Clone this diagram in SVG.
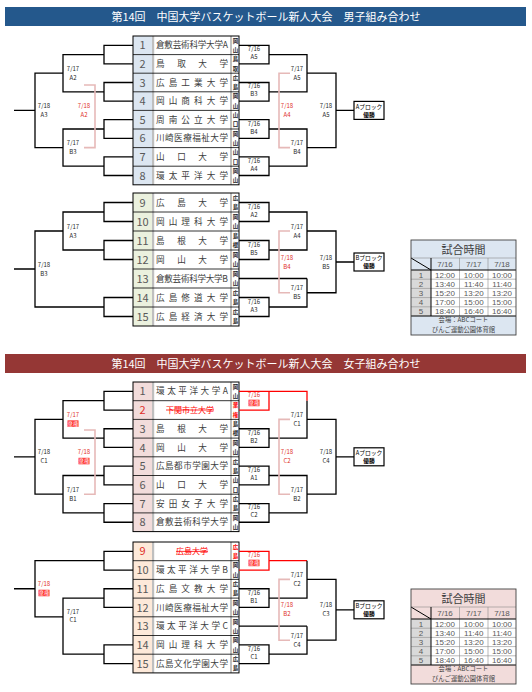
<svg xmlns="http://www.w3.org/2000/svg" width="532" height="692" viewBox="0 0 532 692">
<style>
text{font-family:"Noto Sans CJK JP","Noto Sans",sans-serif}
.ln{stroke:#000;stroke-width:1.3;fill:none}
.pk{stroke:#e6b9b8;stroke-width:1.6;fill:none}
.rd{stroke:#ff0000;stroke-width:1.3;fill:none}
.lb{font-size:6px;fill:#262626;text-anchor:middle}
.lr{font-size:6px;fill:#e0302a;text-anchor:middle}
.lw{font-size:5.5px;fill:#fff;text-anchor:middle}
.rb{fill:#ff2020}
.no{font-size:11px;fill:#595959;text-anchor:middle}
.nm{font-size:8.6px;fill:#404040}
.pf{font-size:5.5px;fill:#262626;text-anchor:middle;font-weight:bold}
.bA{fill:#dce6f1}.bB{fill:#ebf1de}.bC{fill:#f2dcdb}.bD{fill:#fde9d9}
.tb{fill:none;stroke:#000;stroke-width:1}
.rl{stroke:#000;stroke-width:0.8}
.sep{fill:#bfbfbf}
.hd{font-size:11px;fill:#fff;text-anchor:middle}
.tt{font-size:11px;fill:#404040;text-anchor:middle}
.tm{font-family:"Liberation Sans",Arial,sans-serif;font-size:8px;fill:#595959;text-anchor:middle}
.ft{font-size:6.3px;fill:#404040;text-anchor:middle}
.gl{stroke:#8c8c8c;stroke-width:0.6}
.bl{stroke:#000;stroke-width:1}
.wb{font-size:5.8px;fill:#000;text-anchor:middle}
</style>
<rect width="532" height="692" fill="#fff"/>

<!-- headers -->
<g id="header-men"><rect x="5" y="7" width="521" height="19" fill="#24588c"/><text class="hd" x="266" y="20.5">第14回　中国大学バスケットボール新人大会　男子組み合わせ</text></g>
<g id="header-women"><rect x="5" y="354" width="521" height="19" fill="#953735"/><text class="hd" x="266" y="367.5">第14回　中国大学バスケットボール新人大会　女子組み合わせ</text></g>

<!-- men A teams -->
<g id="men-A-table">
<g id="m1"><rect class="bA" x="133" y="36" width="19" height="18.6"/><text class="no" x="142.5" y="49.3">1</text><text class="nm" x="156" y="48.3" textLength="72" lengthAdjust="spacing">倉敷芸術科学大学A</text><text class="pf" x="235.5" y="42.6">岡</text><text class="pf" x="235.5" y="51.9">山</text></g>
<g id="m2"><rect class="bA" x="133" y="54.6" width="19" height="18.6"/><text class="no" x="142.5" y="67.9">2</text><text class="nm" x="156" y="66.9" textLength="72" lengthAdjust="spacing">鳥取大学</text><text class="pf" x="235.5" y="61.2">鳥</text><text class="pf" x="235.5" y="70.5">取</text></g>
<g id="m3"><rect class="bA" x="133" y="73.2" width="19" height="18.6"/><text class="no" x="142.5" y="86.5">3</text><text class="nm" x="156" y="85.5" textLength="72" lengthAdjust="spacing">広島工業大学</text><text class="pf" x="235.5" y="79.8">広</text><text class="pf" x="235.5" y="89.1">島</text></g>
<g id="m4"><rect class="bA" x="133" y="91.8" width="19" height="18.6"/><text class="no" x="142.5" y="105.1">4</text><text class="nm" x="156" y="104.1" textLength="72" lengthAdjust="spacing">岡山商科大学</text><text class="pf" x="235.5" y="98.4">岡</text><text class="pf" x="235.5" y="107.7">山</text></g>
<g id="m5"><rect class="bA" x="133" y="110.4" width="19" height="18.6"/><text class="no" x="142.5" y="123.7">5</text><text class="nm" x="156" y="122.7" textLength="72" lengthAdjust="spacing">周南公立大学</text><text class="pf" x="235.5" y="117">山</text><text class="pf" x="235.5" y="126.3">口</text></g>
<g id="m6"><rect class="bA" x="133" y="129" width="19" height="18.6"/><text class="no" x="142.5" y="142.3">6</text><text class="nm" x="156" y="141.3" textLength="72" lengthAdjust="spacing">川崎医療福祉大学</text><text class="pf" x="235.5" y="135.6">岡</text><text class="pf" x="235.5" y="144.9">山</text></g>
<g id="m7"><rect class="bA" x="133" y="147.6" width="19" height="18.6"/><text class="no" x="142.5" y="160.9">7</text><text class="nm" x="156" y="159.9" textLength="72" lengthAdjust="spacing">山口大学</text><text class="pf" x="235.5" y="154.2">山</text><text class="pf" x="235.5" y="163.5">口</text></g>
<g id="m8"><rect class="bA" x="133" y="166.2" width="19" height="18.6"/><text class="no" x="142.5" y="179.5">8</text><text class="nm" x="156" y="178.5" textLength="72" lengthAdjust="spacing">環太平洋大学</text><text class="pf" x="235.5" y="172.8">岡</text><text class="pf" x="235.5" y="182.1">山</text></g>
<rect class="sep" x="152" y="36" width="2.2" height="148.8"/><rect class="sep" x="230" y="36" width="2" height="148.8"/>
<path class="rl" d="M133,54.6H239M133,73.2H239M133,91.8H239M133,110.4H239M133,129H239M133,147.6H239M133,166.2H239"/>
<rect class="tb" x="133" y="36" width="106" height="148.8"/>
</g>

<!-- men B teams -->
<g id="men-B-table">
<g id="m9"><rect class="bB" x="133" y="193" width="19" height="19"/><text class="no" x="142.5" y="206.5">9</text><text class="nm" x="156" y="205.5" textLength="72" lengthAdjust="spacing">広島大学</text><text class="pf" x="235.5" y="199.8">広</text><text class="pf" x="235.5" y="209.3">島</text></g>
<g id="m10"><rect class="bB" x="133" y="212" width="19" height="19"/><text class="no" x="142.5" y="225.5">10</text><text class="nm" x="156" y="224.5" textLength="72" lengthAdjust="spacing">岡山理科大学</text><text class="pf" x="235.5" y="218.8">岡</text><text class="pf" x="235.5" y="228.3">山</text></g>
<g id="m11"><rect class="bB" x="133" y="231" width="19" height="19"/><text class="no" x="142.5" y="244.5">11</text><text class="nm" x="156" y="243.5" textLength="72" lengthAdjust="spacing">島根大学</text><text class="pf" x="235.5" y="237.8">島</text><text class="pf" x="235.5" y="247.3">根</text></g>
<g id="m12"><rect class="bB" x="133" y="250" width="19" height="19"/><text class="no" x="142.5" y="263.5">12</text><text class="nm" x="156" y="262.5" textLength="72" lengthAdjust="spacing">岡山大学</text><text class="pf" x="235.5" y="256.8">岡</text><text class="pf" x="235.5" y="266.3">山</text></g>
<g id="m13"><rect class="bB" x="133" y="269" width="19" height="19"/><text class="no" x="142.5" y="282.5">13</text><text class="nm" x="156" y="281.5" textLength="72" lengthAdjust="spacing">倉敷芸術科学大学B</text><text class="pf" x="235.5" y="275.8">岡</text><text class="pf" x="235.5" y="285.3">山</text></g>
<g id="m14"><rect class="bB" x="133" y="288" width="19" height="19"/><text class="no" x="142.5" y="301.5">14</text><text class="nm" x="156" y="300.5" textLength="72" lengthAdjust="spacing">広島修道大学</text><text class="pf" x="235.5" y="294.8">広</text><text class="pf" x="235.5" y="304.3">島</text></g>
<g id="m15"><rect class="bB" x="133" y="307" width="19" height="19"/><text class="no" x="142.5" y="320.5">15</text><text class="nm" x="156" y="319.5" textLength="72" lengthAdjust="spacing">広島経済大学</text><text class="pf" x="235.5" y="313.8">広</text><text class="pf" x="235.5" y="323.3">島</text></g>
<rect class="sep" x="152" y="193" width="2.2" height="133"/><rect class="sep" x="230" y="193" width="2" height="133"/>
<path class="rl" d="M133,212H239M133,231H239M133,250H239M133,269H239M133,288H239M133,307H239"/>
<rect class="tb" x="133" y="193" width="106" height="133"/>
</g>

<!-- women A teams -->
<g id="women-A-table">
<g id="w1"><rect class="bC" x="133" y="382" width="19" height="18.7"/><text class="no" x="142.5" y="395.4">1</text><text class="nm" x="156" y="394.4" textLength="72" lengthAdjust="spacing">環太平洋大学A</text><text class="pf" x="235.5" y="388.7">岡</text><text class="pf" x="235.5" y="398">山</text></g>
<g id="w2"><rect class="bC" x="133" y="400.7" width="19" height="18.7"/><text class="no" x="142.5" y="414.1" style="fill:#e0302a">2</text><text x="190" y="413" font-size="8" fill="#ff0000" text-anchor="middle" text-decoration="line-through">下関市立大学</text><text class="pf" x="235.5" y="407.4" style="fill:#ff0000">棄</text><text class="pf" x="235.5" y="416.7" style="fill:#ff0000">権</text></g>
<g id="w3"><rect class="bC" x="133" y="419.4" width="19" height="18.7"/><text class="no" x="142.5" y="432.8">3</text><text class="nm" x="156" y="431.8" textLength="72" lengthAdjust="spacing">島根大学</text><text class="pf" x="235.5" y="426.1">島</text><text class="pf" x="235.5" y="435.4">根</text></g>
<g id="w4"><rect class="bC" x="133" y="438.1" width="19" height="18.7"/><text class="no" x="142.5" y="451.5">4</text><text class="nm" x="156" y="450.5" textLength="72" lengthAdjust="spacing">岡山大学</text><text class="pf" x="235.5" y="444.8">岡</text><text class="pf" x="235.5" y="454.1">山</text></g>
<g id="w5"><rect class="bC" x="133" y="456.8" width="19" height="18.7"/><text class="no" x="142.5" y="470.2">5</text><text class="nm" x="156" y="469.2" textLength="72" lengthAdjust="spacing">広島都市学園大学</text><text class="pf" x="235.5" y="463.5">広</text><text class="pf" x="235.5" y="472.8">島</text></g>
<g id="w6"><rect class="bC" x="133" y="475.5" width="19" height="18.7"/><text class="no" x="142.5" y="488.9">6</text><text class="nm" x="156" y="487.9" textLength="72" lengthAdjust="spacing">山口大学</text><text class="pf" x="235.5" y="482.2">山</text><text class="pf" x="235.5" y="491.5">口</text></g>
<g id="w7"><rect class="bC" x="133" y="494.2" width="19" height="18.7"/><text class="no" x="142.5" y="507.6">7</text><text class="nm" x="156" y="506.6" textLength="72" lengthAdjust="spacing">安田女子大学</text><text class="pf" x="235.5" y="500.9">広</text><text class="pf" x="235.5" y="510.2">島</text></g>
<g id="w8"><rect class="bC" x="133" y="512.9" width="19" height="18.7"/><text class="no" x="142.5" y="526.3">8</text><text class="nm" x="156" y="525.3" textLength="72" lengthAdjust="spacing">倉敷芸術科学大学</text><text class="pf" x="235.5" y="519.6">岡</text><text class="pf" x="235.5" y="528.9">山</text></g>
<rect class="sep" x="152" y="382" width="2.2" height="149.6"/><rect class="sep" x="230" y="382" width="2" height="149.6"/>
<path class="rl" d="M133,400.7H239M133,419.4H239M133,438.1H239M133,456.8H239M133,475.5H239M133,494.2H239M133,512.9H239"/>
<rect class="tb" x="133" y="382" width="106" height="149.6"/>
</g>

<!-- women B teams -->
<g id="women-B-table">
<g id="w9"><rect class="bD" x="133" y="542" width="19" height="18.7"/><text class="no" x="142.5" y="555.4" style="fill:#e0302a">9</text><text x="192" y="554.3" font-size="8" fill="#ff0000" text-anchor="middle" text-decoration="line-through">広島大学</text><text class="pf" x="235.5" y="548.7" style="fill:#ff0000">広</text><text class="pf" x="235.5" y="558" style="fill:#ff0000">島</text></g>
<g id="w10"><rect class="bD" x="133" y="560.7" width="19" height="18.7"/><text class="no" x="142.5" y="574.1">10</text><text class="nm" x="156" y="573.1" textLength="72" lengthAdjust="spacing">環太平洋大学B</text><text class="pf" x="235.5" y="567.4">岡</text><text class="pf" x="235.5" y="576.7">山</text></g>
<g id="w11"><rect class="bD" x="133" y="579.4" width="19" height="18.7"/><text class="no" x="142.5" y="592.8">11</text><text class="nm" x="156" y="591.8" textLength="72" lengthAdjust="spacing">広島文教大学</text><text class="pf" x="235.5" y="586.1">広</text><text class="pf" x="235.5" y="595.4">島</text></g>
<g id="w12"><rect class="bD" x="133" y="598.1" width="19" height="18.7"/><text class="no" x="142.5" y="611.5">12</text><text class="nm" x="156" y="610.5" textLength="72" lengthAdjust="spacing">川崎医療福祉大学</text><text class="pf" x="235.5" y="604.8">岡</text><text class="pf" x="235.5" y="614.1">山</text></g>
<g id="w13"><rect class="bD" x="133" y="616.8" width="19" height="18.7"/><text class="no" x="142.5" y="630.2">13</text><text class="nm" x="156" y="629.2" textLength="72" lengthAdjust="spacing">環太平洋大学C</text><text class="pf" x="235.5" y="623.5">岡</text><text class="pf" x="235.5" y="632.8">山</text></g>
<g id="w14"><rect class="bD" x="133" y="635.5" width="19" height="18.7"/><text class="no" x="142.5" y="648.9">14</text><text class="nm" x="156" y="647.9" textLength="72" lengthAdjust="spacing">岡山理科大学</text><text class="pf" x="235.5" y="642.2">岡</text><text class="pf" x="235.5" y="651.5">山</text></g>
<g id="w15"><rect class="bD" x="133" y="654.2" width="19" height="18.7"/><text class="no" x="142.5" y="667.6">15</text><text class="nm" x="156" y="666.6" textLength="72" lengthAdjust="spacing">広島文化学園大学</text><text class="pf" x="235.5" y="660.9">広</text><text class="pf" x="235.5" y="670.2">島</text></g>
<rect class="sep" x="152" y="542" width="2.2" height="130.9"/><rect class="sep" x="230" y="542" width="2" height="130.9"/>
<path class="rl" d="M133,560.7H239M133,579.4H239M133,598.1H239M133,616.8H239M133,635.5H239M133,654.2H239"/>
<rect class="tb" x="133" y="542" width="106" height="130.9"/>
</g>

<!-- connectors -->
<g id="connectors">
<!-- men A left -->
<path class="ln" d="M133,45.3H104V63.9H133M133,82.5H104V101.1H133M133,119.7H104V138.3H133M133,156.9H104V175.5H133"/>
<path class="ln" d="M104,54.6H63V91.8H104M104,129H63V166.2H104M63,73.2H35V147.6H63M35,110.4H14"/>
<path class="pk" d="M84,85H95V147.6H84"/>
<!-- men A right -->
<path class="ln" d="M239,45.3H269V63.9H239M239,82.5H269V101.1H239M239,119.7H269V138.3H239M239,156.9H269V175.5H239"/>
<path class="ln" d="M269,54.6H307V91.8H269M269,129H307V166.2H269M307,73.2H336V147.6H307M336,110.4H354"/>
<path class="pk" d="M290,73.2H279V147.6H290"/>
<!-- men B left -->
<path class="ln" d="M133,202.5H104V221.5H133M133,240.5H104V259.5H133M133,297.5H104V316.5H133"/>
<path class="ln" d="M104,212H63V250H104M63,231H35V307H104M35,269H14"/>
<!-- men B right -->
<path class="ln" d="M239,202.5H269V221.5H239M239,240.5H269V259.5H239M239,297.5H269V316.5H239M239,278.5H307"/>
<path class="ln" d="M269,212H307V250H269M307,278.5V307H269M307,231H336V292.75H307M336,262H354"/>
<path class="pk" d="M290,231H279V292.75H290"/>
<!-- women A left -->
<path class="ln" d="M133,391.35H104V410.05H133M133,428.75H104V447.45H133M133,466.15H104V484.85H133M133,503.55H104V522.25H133"/>
<path class="ln" d="M104,400.7H63V438.1H104M104,475.5H63V512.9H104M63,419.4H35V494.2H63M35,456.8H14"/>
<path class="pk" d="M84,430H95V494.2H84"/>
<!-- women A right -->
<path class="rd" d="M239,391.35H307V400.7M269,391.35V410.05H239"/>
<path class="ln" d="M239,428.75H269V447.45H239M239,466.15H269V484.85H239M239,503.55H269V522.25H239"/>
<path class="ln" d="M307,400.7V438.1H269M269,475.5H307V512.9H269M307,419.4H336V494.2H307M336,456.8H354"/>
<path class="pk" d="M290,419.4H279V494.2H290"/>
<!-- women B left -->
<path class="ln" d="M133,551.35H104V570.05H133M133,588.75H104V607.45H133M133,644.85H104V663.55H133"/>
<path class="ln" d="M104,598.1H63V654.2H104M104,560.7H35V616.8H63M35,588.75H14"/>
<!-- women B right -->
<path class="rd" d="M239,551.35H269V570.05H239M269,560.7H307"/>
<path class="ln" d="M239,588.75H269V607.45H239M239,644.85H269V663.55H239M239,626.15H307"/>
<path class="ln" d="M307,560.7V598.1H269M307,626.15V654.2H269M307,579.4H336V640.2H307M336,609.8H354"/>
<path class="pk" d="M290,579.4H279V640.2H290"/>
</g>

<!-- match labels -->
<g id="labels">
<!-- men A -->
<text class="lb" x="73" y="70.7">7/17</text><text class="lb" x="73" y="79.7">A2</text>
<text class="lb" x="73" y="145.1">7/17</text><text class="lb" x="73" y="154.1">B3</text>
<text class="lb" x="44" y="107.9">7/18</text><text class="lb" x="44" y="116.9">A3</text>
<text class="lr" x="84" y="107.9">7/18</text><text class="lr" x="84" y="116.9">A2</text>
<text class="lb" x="254" y="51.1">7/16</text><text class="lb" x="254" y="59.1">A5</text>
<text class="lb" x="254" y="88.3">7/16</text><text class="lb" x="254" y="96.3">B3</text>
<text class="lb" x="254" y="125.5">7/16</text><text class="lb" x="254" y="133.5">B4</text>
<text class="lb" x="254" y="162.7">7/16</text><text class="lb" x="254" y="170.7">A4</text>
<text class="lb" x="297" y="70.7">7/17</text><text class="lb" x="297" y="79.7">A5</text>
<text class="lb" x="297" y="145.1">7/17</text><text class="lb" x="297" y="154.1">B4</text>
<text class="lb" x="326" y="107.9">7/18</text><text class="lb" x="326" y="116.9">A5</text>
<text class="lr" x="287" y="107.9">7/18</text><text class="lr" x="287" y="116.9">A4</text>
<!-- men B -->
<text class="lb" x="73" y="228.5">7/17</text><text class="lb" x="73" y="237.5">A3</text>
<text class="lb" x="44" y="266.5">7/18</text><text class="lb" x="44" y="275.5">B3</text>
<text class="lb" x="254" y="208.5">7/16</text><text class="lb" x="254" y="216.5">A2</text>
<text class="lb" x="254" y="246.5">7/16</text><text class="lb" x="254" y="254.5">B5</text>
<text class="lb" x="254" y="303.5">7/16</text><text class="lb" x="254" y="311.5">A3</text>
<text class="lb" x="297" y="228.5">7/17</text><text class="lb" x="297" y="237.5">A4</text>
<text class="lb" x="297" y="290.25">7/17</text><text class="lb" x="297" y="299.25">B5</text>
<text class="lb" x="326" y="259.5">7/18</text><text class="lb" x="326" y="268.5">B5</text>
<text class="lr" x="287" y="259.5">7/18</text><text class="lr" x="287" y="268.5">B4</text>
<!-- women A -->
<text class="lr" x="73" y="416.9">7/17</text><rect class="rb" x="67.5" y="420.4" width="11" height="6.5"/><text class="lw" x="73" y="425.9">棄権</text>
<text class="lb" x="73" y="491.7">7/17</text><text class="lb" x="73" y="500.7">B1</text>
<text class="lb" x="44" y="454.3">7/18</text><text class="lb" x="44" y="463.3">C1</text>
<text class="lr" x="84" y="454.3">7/18</text><rect class="rb" x="78.5" y="457.8" width="11" height="6.5"/><text class="lw" x="84" y="463.3">棄権</text>
<text class="lr" x="254" y="397.2">7/16</text><rect class="rb" x="248.5" y="399.7" width="11" height="6.5"/><text class="lw" x="254" y="405.2">棄権</text>
<text class="lb" x="254" y="434.6">7/16</text><text class="lb" x="254" y="442.6">B2</text>
<text class="lb" x="254" y="472">7/16</text><text class="lb" x="254" y="480">A1</text>
<text class="lb" x="254" y="509.4">7/16</text><text class="lb" x="254" y="517.4">C2</text>
<text class="lb" x="297" y="416.9">7/17</text><text class="lb" x="297" y="425.9">C1</text>
<text class="lb" x="297" y="491.7">7/17</text><text class="lb" x="297" y="500.7">B2</text>
<text class="lb" x="326" y="454.3">7/18</text><text class="lb" x="326" y="463.3">C4</text>
<text class="lr" x="287" y="454.3">7/18</text><text class="lr" x="287" y="463.3">C2</text>
<!-- women B -->
<text class="lb" x="73" y="614">7/17</text><text class="lb" x="73" y="622">C1</text>
<text class="lr" x="44" y="586.25">7/18</text><rect class="rb" x="38.5" y="589.75" width="11" height="6.5"/><text class="lw" x="44" y="595.25">棄権</text>
<text class="lr" x="254" y="557.2">7/16</text><rect class="rb" x="248.5" y="559.7" width="11" height="6.5"/><text class="lw" x="254" y="565.2">棄権</text>
<text class="lb" x="254" y="594.6">7/16</text><text class="lb" x="254" y="602.6">B1</text>
<text class="lb" x="254" y="650.7">7/16</text><text class="lb" x="254" y="658.7">C1</text>
<text class="lb" x="297" y="576.9">7/17</text><text class="lb" x="297" y="585.9">C2</text>
<text class="lb" x="297" y="637.7">7/17</text><text class="lb" x="297" y="646.7">C4</text>
<text class="lb" x="326" y="607.3">7/18</text><text class="lb" x="326" y="616.3">C3</text>
<text class="lr" x="287" y="607.3">7/18</text><text class="lr" x="287" y="616.3">B2</text>
</g>

<!-- winner boxes -->
<g id="win-men-A"><rect x="354" y="101.4" width="30" height="18" fill="#fff" stroke="#000" stroke-width="1.2"/><text class="wb" x="369" y="108.6">Aブロック</text><text class="wb" x="369" y="116.8" font-weight="bold">優勝</text></g>
<g id="win-men-B"><rect x="354" y="253" width="30" height="18" fill="#fff" stroke="#000" stroke-width="1.2"/><text class="wb" x="369" y="260.2">Bブロック</text><text class="wb" x="369" y="268.4" font-weight="bold">優勝</text></g>
<g id="win-women-A"><rect x="354" y="447.8" width="30" height="18" fill="#fff" stroke="#000" stroke-width="1.2"/><text class="wb" x="369" y="455">Aブロック</text><text class="wb" x="369" y="463.2" font-weight="bold">優勝</text></g>
<g id="win-women-B"><rect x="354" y="600.8" width="30" height="18" fill="#fff" stroke="#000" stroke-width="1.2"/><text class="wb" x="369" y="608">Bブロック</text><text class="wb" x="369" y="616.2" font-weight="bold">優勝</text></g>

<!-- schedule tables -->
<g id="schedule-men">
<rect x="411" y="240" width="105" height="95" fill="#dce6f1"/>
<rect x="411" y="270" width="20" height="46" fill="#d9d9d9"/><rect x="431" y="270" width="85" height="46" fill="#fff"/>
<text class="tt" x="463.5" y="253.5">試合時間</text>
<path class="gl" d="M411,258H516M459.5,258V316M488,258V316M411,279.2H516M411,288.4H516M411,297.6H516M411,306.8H516"/>
<path class="bl" d="M411,258L431,270M431,258V316M411,270H516M411,316H516"/>
<text class="tm" x="445" y="267">7/16</text><text class="tm" x="473.75" y="267">7/17</text><text class="tm" x="502" y="267">7/18</text>
<text class="tm" x="421" y="277.5">1</text><text class="tm" x="445" y="277.5">12:00</text><text class="tm" x="473.75" y="277.5">10:00</text><text class="tm" x="502" y="277.5">10:00</text>
<text class="tm" x="421" y="286.7">2</text><text class="tm" x="445" y="286.7">13:40</text><text class="tm" x="473.75" y="286.7">11:40</text><text class="tm" x="502" y="286.7">11:40</text>
<text class="tm" x="421" y="295.9">3</text><text class="tm" x="445" y="295.9">15:20</text><text class="tm" x="473.75" y="295.9">13:20</text><text class="tm" x="502" y="295.9">13:20</text>
<text class="tm" x="421" y="305.1">4</text><text class="tm" x="445" y="305.1">17:00</text><text class="tm" x="473.75" y="305.1">15:00</text><text class="tm" x="502" y="305.1">15:00</text>
<text class="tm" x="421" y="314.3">5</text><text class="tm" x="445" y="314.3">18:40</text><text class="tm" x="473.75" y="314.3">16:40</text><text class="tm" x="502" y="314.3">16:40</text>
<text class="ft" x="463.5" y="322">会場：ABCコート</text><text class="ft" x="463.5" y="331.5">びんご運動公園体育館</text>
<rect x="411" y="240" width="105" height="95" fill="none" stroke="#404040" stroke-width="0.9"/>
</g>
<g id="schedule-women">
<rect x="411" y="589" width="105" height="95" fill="#f2dcdb"/>
<rect x="411" y="619" width="20" height="46" fill="#d9d9d9"/><rect x="431" y="619" width="85" height="46" fill="#fff"/>
<text class="tt" x="463.5" y="602.5">試合時間</text>
<path class="gl" d="M411,607H516M459.5,607V665M488,607V665M411,628.2H516M411,637.4H516M411,646.6H516M411,655.8H516"/>
<path class="bl" d="M411,607L431,619M431,607V665M411,619H516M411,665H516"/>
<text class="tm" x="445" y="616">7/16</text><text class="tm" x="473.75" y="616">7/17</text><text class="tm" x="502" y="616">7/18</text>
<text class="tm" x="421" y="626.5">1</text><text class="tm" x="445" y="626.5">12:00</text><text class="tm" x="473.75" y="626.5">10:00</text><text class="tm" x="502" y="626.5">10:00</text>
<text class="tm" x="421" y="635.7">2</text><text class="tm" x="445" y="635.7">13:40</text><text class="tm" x="473.75" y="635.7">11:40</text><text class="tm" x="502" y="635.7">11:40</text>
<text class="tm" x="421" y="644.9">3</text><text class="tm" x="445" y="644.9">15:20</text><text class="tm" x="473.75" y="644.9">13:20</text><text class="tm" x="502" y="644.9">13:20</text>
<text class="tm" x="421" y="654.1">4</text><text class="tm" x="445" y="654.1">17:00</text><text class="tm" x="473.75" y="654.1">15:00</text><text class="tm" x="502" y="654.1">15:00</text>
<text class="tm" x="421" y="663.3">5</text><text class="tm" x="445" y="663.3">18:40</text><text class="tm" x="473.75" y="663.3">16:40</text><text class="tm" x="502" y="663.3">16:40</text>
<text class="ft" x="463.5" y="671">会場：ABCコート</text><text class="ft" x="463.5" y="680.5">びんご運動公園体育館</text>
<rect x="411" y="589" width="105" height="95" fill="none" stroke="#404040" stroke-width="0.9"/>
</g>
</svg>
